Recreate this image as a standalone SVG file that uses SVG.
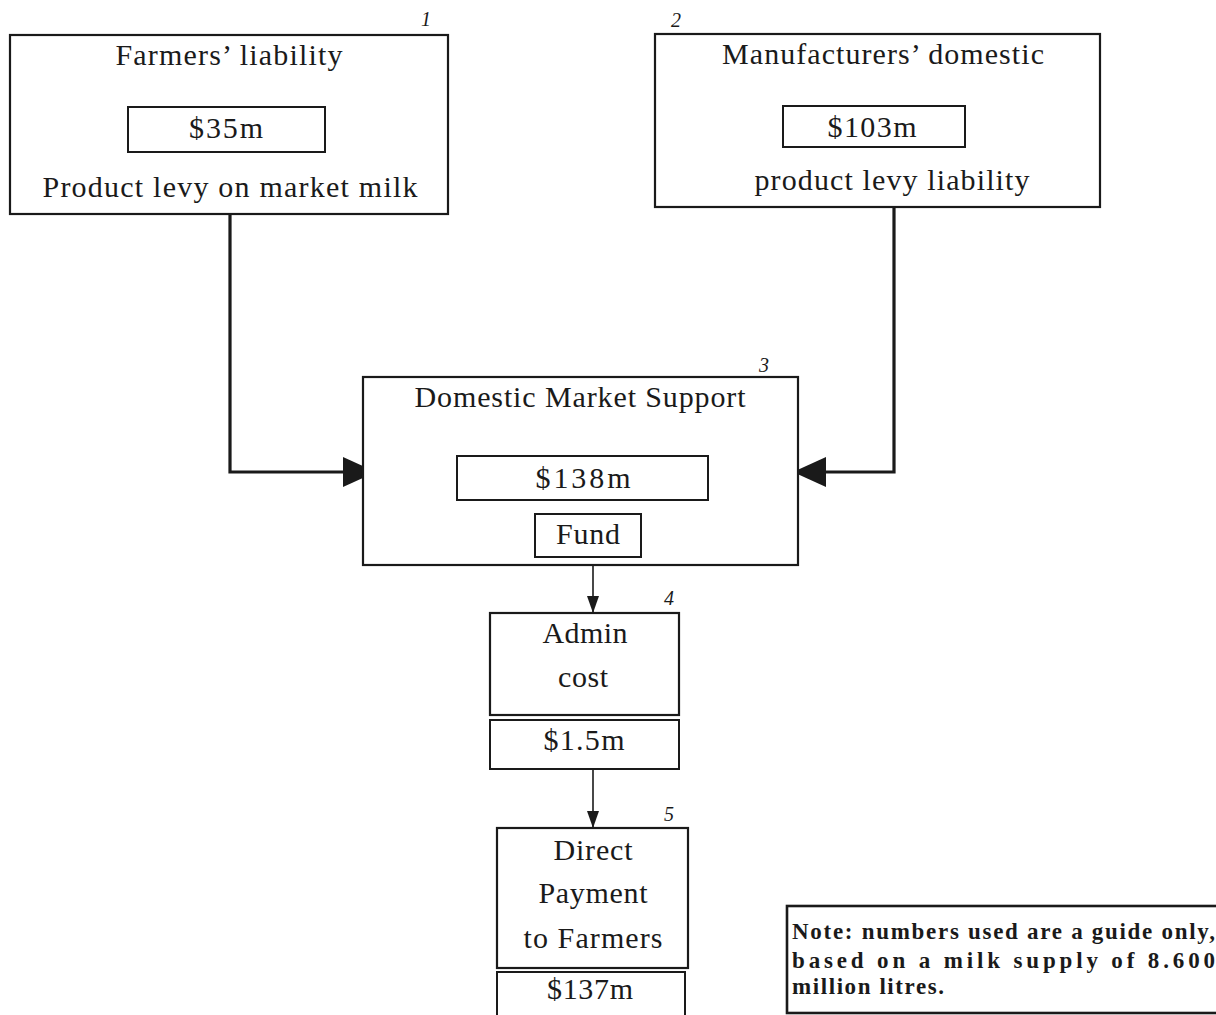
<svg xmlns="http://www.w3.org/2000/svg" width="1216" height="1015" viewBox="0 0 1216 1015">
<style>
.box{fill:#fff;stroke:#1a1a1a;stroke-width:2.2}
.inner{fill:#fff;stroke:#1a1a1a;stroke-width:2}
.lbl{font-family:"Liberation Serif","Times New Roman",serif;font-size:30px;fill:#1a1a1a;text-anchor:middle}
.num{font-family:"Liberation Serif","Times New Roman",serif;font-style:italic;font-size:20px;fill:#1a1a1a}
.note{font-family:"Liberation Serif","Times New Roman",serif;font-size:23px;font-weight:bold;fill:#1a1a1a}
.thick{fill:none;stroke:#1a1a1a;stroke-width:3.2}
.thin{fill:none;stroke:#1a1a1a;stroke-width:1.6}
</style>
<defs>
<marker id="big" markerUnits="userSpaceOnUse" markerWidth="34" markerHeight="32" refX="33" refY="15" orient="auto">
<path d="M0,0 L33,15 L0,30 Z" fill="#1a1a1a"/>
</marker>
<marker id="small" markerUnits="userSpaceOnUse" markerWidth="18" markerHeight="14" refX="17" refY="6" orient="auto">
<path d="M0,0 L17,6 L0,12 Z" fill="#1a1a1a"/>
</marker>
</defs>
<rect width="1216" height="1015" fill="#fff"/>

<g id="connectors">
<path class="thick" d="M230,214 V472 H376" marker-end="url(#big)"/>
<path class="thick" d="M894,207 V472 H793" marker-end="url(#big)"/>
<path class="thin" d="M593,565 V613" marker-end="url(#small)"/>
<path class="thin" d="M593,769 V828" marker-end="url(#small)"/>
</g>

<g id="node1">
<rect class="box" x="10" y="35" width="438" height="179"/>
<rect class="inner" x="128" y="107" width="197" height="45"/>
<text class="lbl" x="229" y="65" textLength="227" lengthAdjust="spacing">Farmers’ liability</text>
<text class="lbl" x="226" y="138" textLength="74" lengthAdjust="spacing">$35m</text>
<text class="lbl" x="230" y="197" textLength="375" lengthAdjust="spacing">Product levy on market milk</text>
<text class="num" x="421" y="26">1</text>
</g>

<g id="node2">
<rect class="box" x="655" y="34" width="445" height="173"/>
<rect class="inner" x="783" y="106" width="182" height="41"/>
<text class="lbl" x="883" y="64" textLength="322" lengthAdjust="spacing">Manufacturers’ domestic</text>
<text class="lbl" x="872" y="137" textLength="89" lengthAdjust="spacing">$103m</text>
<text class="lbl" x="892" y="190" textLength="275" lengthAdjust="spacing">product levy liability</text>
<text class="num" x="671" y="27">2</text>
</g>

<g id="node3">
<rect class="box" x="363" y="377" width="435" height="188"/>
<rect class="inner" x="457" y="456" width="251" height="44"/>
<rect class="inner" x="535" y="514" width="106" height="43"/>
<text class="lbl" x="580" y="407" textLength="331" lengthAdjust="spacing">Domestic Market Support</text>
<text class="lbl" x="583" y="488" textLength="95" lengthAdjust="spacing">$138m</text>
<text class="lbl" x="588" y="544" textLength="64" lengthAdjust="spacing">Fund</text>
<text class="num" x="759" y="372">3</text>
</g>

<g id="node4">
<rect class="box" x="490" y="613" width="189" height="102"/>
<rect class="inner" x="490" y="720" width="189" height="49"/>
<text class="lbl" x="585" y="643" textLength="85" lengthAdjust="spacing">Admin</text>
<text class="lbl" x="583" y="687" textLength="50" lengthAdjust="spacing">cost</text>
<text class="lbl" x="584" y="750" textLength="81" lengthAdjust="spacing">$1.5m</text>
<text class="num" x="664" y="605">4</text>
</g>

<g id="node5">
<rect class="box" x="497" y="828" width="191" height="140"/>
<rect class="inner" x="497" y="972" width="188" height="60"/>
<text class="lbl" x="593" y="860" textLength="79" lengthAdjust="spacing">Direct</text>
<text class="lbl" x="593" y="903" textLength="109" lengthAdjust="spacing">Payment</text>
<text class="lbl" x="593" y="948" textLength="139" lengthAdjust="spacing">to Farmers</text>
<text class="lbl" x="590" y="999" textLength="86" lengthAdjust="spacing">$137m</text>
<text class="num" x="664" y="821">5</text>
</g>

<g id="note">
<rect class="box" x="787" y="906" width="440" height="107" style="stroke-width:2.6"/>
<text class="note" x="792" y="939" textLength="423" lengthAdjust="spacing">Note: numbers used are a guide only,</text>
<text class="note" x="792" y="968" textLength="423" lengthAdjust="spacing">based on a milk supply of 8.600</text>
<text class="note" x="792" y="994" textLength="152" lengthAdjust="spacing">million litres.</text>
</g>
</svg>
